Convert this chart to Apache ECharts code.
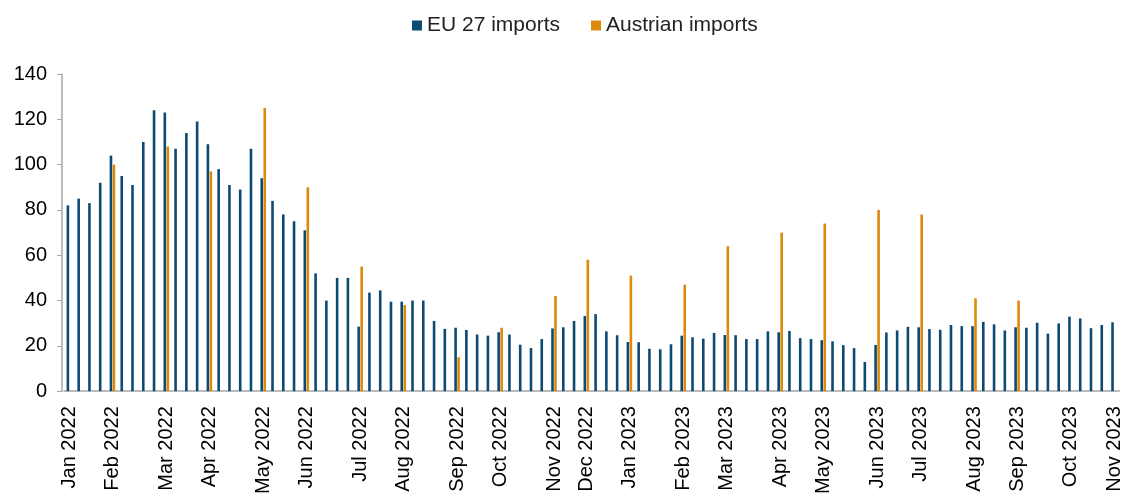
<!DOCTYPE html>
<html>
<head>
<meta charset="utf-8">
<script src="https://cdn.jsdelivr.net/npm/echarts@6/dist/echarts.min.js"></script>
<style>
  html, body { margin: 0; padding: 0; background: #fff; }
  #main { width: 1124px; height: 497px; }
</style>
</head>
<body>
<div id="main"></div>
<script>
// weekly EU 27 imports (Jan 2022 - Nov 2023)
var euImports = [
    82, 85, 83, 92, 104, 95, 91, 110, 124, 123,
    107, 114, 119, 109, 98, 91, 89, 107, 94, 84,
    78, 75, 71, 52, 40, 50, 50, 28.5, 43.5, 44.5,
    39.5, 39.5, 40, 40, 31, 27.5, 28, 27, 25, 24.5,
    26, 25, 20.5, 19, 23, 27.7, 28.2, 31, 33.2, 34,
    26.4, 24.7, 21.7, 21.6, 18.7, 18.5, 20.7, 24.5, 23.8, 23.2,
    25.7, 24.8, 24.7, 23, 23, 26.4, 26, 26.6, 23.4, 23,
    22.5, 22, 20.3, 19, 12.9, 20.4, 25.9, 26.8, 28.4, 28.2,
    27.4, 27.1, 29.2, 28.7, 28.7, 30.6, 29.5, 26.8, 28.2, 28,
    30.2, 25.4, 29.9, 32.9, 32.1, 27.8, 29.2, 30.4
];

// Austrian imports, one value a month, at the week where it is reported
var atWeeks = [4, 9, 13, 18, 22, 27, 31, 36, 40, 45, 48, 52, 57, 61, 66, 70, 75, 79, 84, 88];
var atValues = [100, 108, 97, 125, 90, 55, 38, 15, 28, 42, 58, 51, 47, 64, 70, 74, 80, 78, 41, 40];

// month tick labels and the week they sit on
var monthWeeks = [0, 4, 9, 13, 18, 22, 27, 31, 36, 40, 45, 48, 52, 57, 61, 66, 70, 75, 79, 84, 88, 93, 97];
var monthLabels = [
    'Jan 2022', 'Feb 2022', 'Mar 2022', 'Apr 2022', 'May 2022', 'Jun 2022',
    'Jul 2022', 'Aug 2022', 'Sep 2022', 'Oct 2022', 'Nov 2022', 'Dec 2022',
    'Jan 2023', 'Feb 2023', 'Mar 2023', 'Apr 2023', 'May 2023', 'Jun 2023',
    'Jul 2023', 'Aug 2023', 'Sep 2023', 'Oct 2023', 'Nov 2023'
];

var categories = [];
var atSeries = [];
for (var i = 0; i < euImports.length; i++) {
    categories.push('');
    atSeries.push(null);
}
monthWeeks.forEach(function(w, k) { categories[w] = monthLabels[k]; });
atWeeks.forEach(function(w, k) { atSeries[w] = atValues[k]; });

var chart = echarts.init(document.getElementById('main'));
var option = {
    animation: false,
    textStyle: { fontFamily: 'Liberation Sans, Arial, sans-serif' },
    legend: {
        top: 10,
        left: 407,
        itemWidth: 10,
        itemHeight: 10,
        itemGap: 31,
        icon: 'rect',
        textStyle: { fontSize: 21, color: '#222' },
        data: ['EU 27 imports', 'Austrian imports']
    },
    grid: { left: 64, right: 0, top: 74, bottom: 105 },
    xAxis: {
        type: 'category',
        data: categories,
        axisLine: { lineStyle: { color: '#a6a6a6', width: 1.5 } },
        axisTick: { show: false },
        axisLabel: {
            interval: 0,
            rotate: 90,
            fontSize: 20,
            color: '#000',
            margin: 15
        }
    },
    yAxis: {
        type: 'value',
        min: 0,
        max: 140,
        interval: 20,
        offset: 2,
        splitLine: { show: false },
        axisLine: { show: true, lineStyle: { color: '#a6a6a6', width: 1.5 } },
        axisTick: { show: true, length: 5, lineStyle: { color: '#a6a6a6' } },
        axisLabel: { fontSize: 20, color: '#000', margin: 15 }
    },
    series: [
        {
            name: 'EU 27 imports',
            type: 'bar',
            data: euImports,
            barWidth: 2.6,
            barGap: '15%',
            itemStyle: { color: '#0c4a73' }
        },
        {
            name: 'Austrian imports',
            type: 'bar',
            data: atSeries,
            barWidth: 2.6,
            itemStyle: { color: '#db8a0c' }
        }
    ]
};
chart.setOption(option);
</script>
</body>
</html>
